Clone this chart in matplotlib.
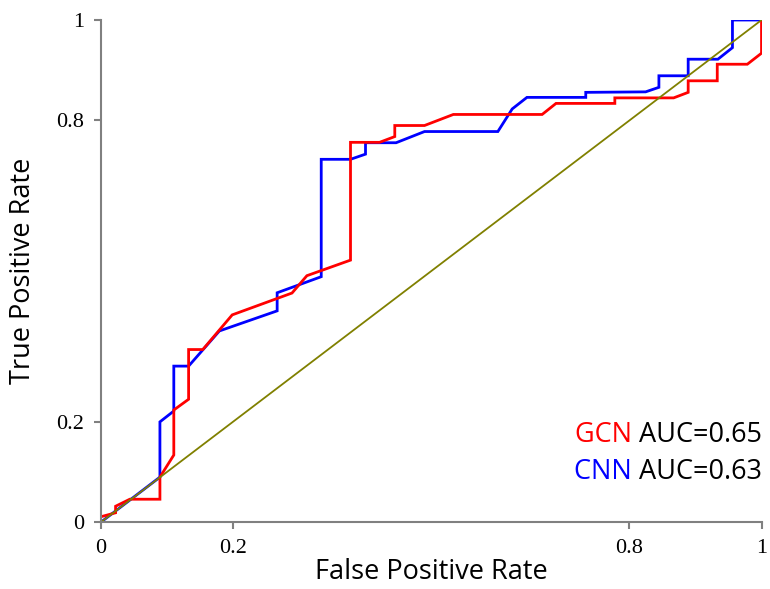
import matplotlib
matplotlib.use("Agg")
import matplotlib.pyplot as plt

# GCN ROC curve
gcn_fpr = [0.000, 0.0225, 0.0225, 0.044, 0.0896, 0.0896, 0.1106, 0.1106, 0.133, 0.133,
           0.1545, 0.199, 0.2895, 0.312, 0.378, 0.378, 0.422, 0.445, 0.445, 0.490,
           0.5336, 0.668, 0.689, 0.778, 0.778, 0.867, 0.889, 0.889, 0.933, 0.933,
           0.9785, 1.0, 1.0]
gcn_tpr = [0.011, 0.019, 0.032, 0.046, 0.046, 0.090, 0.134, 0.2236, 0.245, 0.344,
           0.344, 0.413, 0.4565, 0.491, 0.522, 0.7565, 0.7565, 0.768, 0.790, 0.790,
           0.812, 0.812, 0.834, 0.834, 0.845, 0.845, 0.856, 0.879, 0.879, 0.912,
           0.912, 0.934, 1.0]

# CNN ROC curve
cnn_fpr = [0.0, 0.0896, 0.0896, 0.1106, 0.1106, 0.133, 0.1796, 0.267, 0.267, 0.3337,
           0.3337, 0.378, 0.4007, 0.4007, 0.447, 0.490, 0.601, 0.6227, 0.645, 0.734,
           0.734, 0.8246, 0.8447, 0.8447, 0.889, 0.889, 0.934, 0.956, 0.956, 1.0]
cnn_tpr = [0.0, 0.090, 0.200, 0.2216, 0.311, 0.311, 0.381, 0.421, 0.457, 0.489,
           0.7227, 0.7227, 0.733, 0.7557, 0.7557, 0.778, 0.778, 0.823, 0.846, 0.846,
           0.856, 0.857, 0.866, 0.889, 0.889, 0.922, 0.922, 0.945, 1.0, 1.0]

chance = [0, 1]
ticks = [0, 0.2, 0.8, 1]
tick_labels = ["0", "0.2", "0.8", "1"]
legend_names = ["GCN", "CNN"]
legend_auc = ["AUC=0.65", "AUC=0.63"]
legend_colors = ["#FF0000", "#0000FF"]

fig = plt.figure(figsize=(7.7, 5.89), dpi=100)
ax = fig.add_axes([0.1308, 0.1132, 0.989 - 0.1308, 0.966 - 0.1132])

ax.plot(cnn_fpr, cnn_tpr, color="#0000FF", lw=2.0, solid_joinstyle="miter")
ax.plot(gcn_fpr, gcn_tpr, color="#FF0000", lw=2.0, solid_joinstyle="miter")
ax.plot(chance, chance, color="#808000", lw=1.3)

ax.set_xlim(0, 1)
ax.set_ylim(0, 1)
ax.set_xticks(ticks)
ax.set_yticks(ticks)
ax.set_xticklabels(tick_labels, fontfamily="Liberation Serif", fontsize=16)
ax.set_yticklabels(tick_labels, fontfamily="Liberation Serif", fontsize=16)
ax.tick_params(direction="out", length=5, width=1.5, color="#808080", pad=7)
for s in ["top", "right"]:
    ax.spines[s].set_visible(False)
for s in ["left", "bottom"]:
    ax.spines[s].set_color("#808080")
    ax.spines[s].set_linewidth(1.5)

lab_font = dict(fontfamily="Open Sans", fontsize=19.5)
ax.set_xlabel("False Positive Rate", labelpad=0, **lab_font)
ax.set_ylabel("True Positive Rate", labelpad=14, **lab_font)

ys = [0.160, 0.086]
for name, auc, col, yy in zip(legend_names, legend_auc, legend_colors, ys):
    t = ax.text(1.0, yy, auc, transform=ax.transAxes, ha="right", va="baseline",
                color="black", **lab_font)
    ax.annotate(name + " ", xy=(0, 0), xycoords=t, ha="right", va="bottom",
                color=col, **lab_font)

fig.savefig("out.png", dpi=100)
